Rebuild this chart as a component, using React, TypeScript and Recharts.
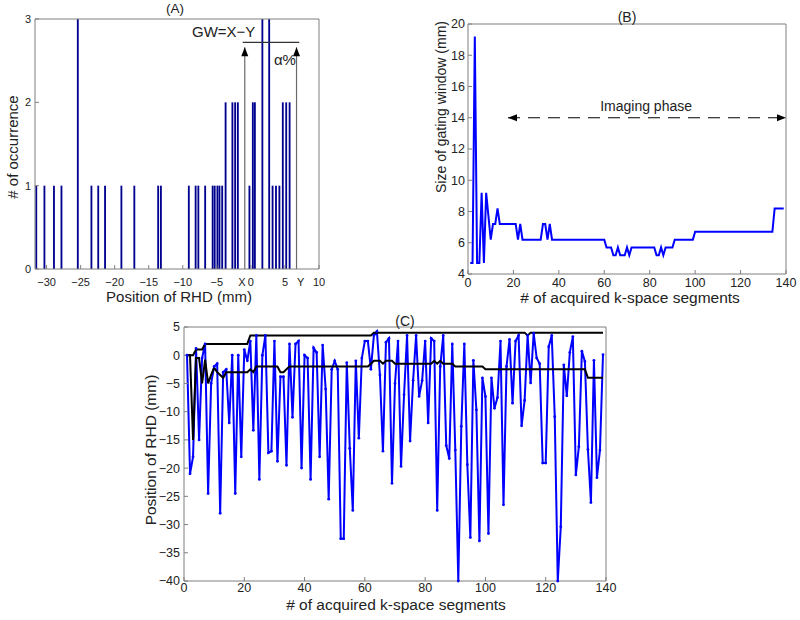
import React from 'react';
import { ComposedChart, Bar, LineChart, Line, XAxis, YAxis, ReferenceLine, ReferenceDot } from 'recharts';

const FONT = '"Liberation Sans", Arial, Helvetica, sans-serif';
const BOX = '#7f7f7f';
const INK = '#222222';

// ---------- Panel A: histogram of RHD positions ----------
const rhdBinCenters = [
  -31.5, -30.3, -28.9, -27.8, -25.4, -23.4, -22.4, -21.4, -19.0, -17.1,
  -13.6, -13.2, -9.1, -8.1, -7.7, -6.7, -5.6, -5.3, -4.9, -4.6,
  -4.2, -3.7, -2.7, -2.3, -1.9, -0.2, 0.3, 0.6, 1.7, 2.7,
  3.2, 3.7, 4.2, 4.7, 5.2, 5.7,
];
const rhdBinCounts = [
  1, 1, 1, 1, 3, 1, 1, 1, 1, 1,
  1, 1, 1, 1, 1, 1, 1, 1, 1, 1,
  1, 2, 2, 2, 2, 1, 2, 2, 3, 3,
  1, 1, 1, 2, 2, 2,
];
const histXTicks = [-30, -25, -20, -15, -10, -5, 0, 5, 10];
const histYTicks = [0, 1, 2, 3];
const histXDomain = [-31.7, 10];
const gateX = -0.9;
const gateY = 6.7;
const arrowTop = 2.66;
const gwLevel = 2.72;
const gwLineFrom = -1.2;
const gwLineTo = 7.1;

// ---------- Panel B: size of gating window ----------
const gatingWindowSize = [
  4.7, 4.7, 19.2, 4.7, 4.7, 9.2, 4.7, 9.2, 7.7, 6.2,
  7.2, 7.2, 8.2, 7.2, 7.2, 7.2, 7.2, 7.2, 7.2, 7.2,
  7.2, 6.2, 7.2, 6.2, 6.2, 6.2, 6.2, 6.2, 6.2, 6.2,
  6.2, 6.2, 7.2, 7.2, 6.2, 7.2, 6.2, 6.2, 6.2, 6.2,
  6.2, 6.2, 6.2, 6.2, 6.2, 6.2, 6.2, 6.2, 6.2, 6.2,
  6.2, 6.2, 6.2, 6.2, 6.2, 6.2, 6.2, 6.2, 6.2, 6.2,
  5.7, 5.7, 5.7, 5.2, 5.2, 5.7, 5.2, 5.2, 5.2, 5.7,
  5.2, 5.7, 5.7, 5.7, 5.7, 5.7, 5.7, 5.7, 5.7, 5.7,
  5.7, 5.7, 5.2, 5.2, 5.7, 5.2, 5.7, 5.7, 5.7, 5.7,
  6.2, 6.2, 6.2, 6.2, 6.2, 6.2, 6.2, 6.2, 6.2, 6.7,
  6.7, 6.7, 6.7, 6.7, 6.7, 6.7, 6.7, 6.7, 6.7, 6.7,
  6.7, 6.7, 6.7, 6.7, 6.7, 6.7, 6.7, 6.7, 6.7, 6.7,
  6.7, 6.7, 6.7, 6.7, 6.7, 6.7, 6.7, 6.7, 6.7, 6.7,
  6.7, 6.7, 6.7, 6.7, 8.2, 8.2, 8.2, 8.2, 8.2,
];
const segTicks = [0, 20, 40, 60, 80, 100, 120, 140];
const gwYTicks = [4, 6, 8, 10, 12, 14, 16, 18, 20];
const imagingStart = 17.6;
const imagingEnd = 140;
const imagingLevel = 14;

// ---------- Panel C: RHD positions with gating window bounds ----------
const rhdPosition = [
  0, -21, -18, 1.2, -15, -0.5, 2, -24.5, -5, -2,
  -1.5, -28, -3, -2.5, -12, 0, -24.5, 0, -18, 1,
  -1, 2.5, -13.3, 3.5, -22, 0, 3.5, -17.3, -17, 2.5,
  -18.8, -3.8, -3.8, -19.5, 2, -11, 2, 2.5, -20, 0,
  -0.5, -22, 1.3, 0.5, -18, 1.8, -6, -25.5, -2.5, -1,
  -2.5, -32.5, -32.5, -1.3, -16.5, -27.5, -1, -14.7, -0.5, 2.5,
  2.5, -2.5, 3.5, 4.2, -3.5, -17, 2.3, 3, -22.7, -5,
  2.5, -19.7, -7, 3.5, -15.2, -4.5, 3.5, -7.3, -4.5, 2.5,
  -12, 3, 2.5, -27.5, -2, 3.5, -16, -18.3, 2, -16.8,
  -40, -12.6, 2, -19.4, -32.3, -0.9, -9.7, -32.9, -4, -7.3,
  -31.6, -4, -9.4, -7.5, 2.5, -26.5, -2, 2.8, -8.5, 2.5,
  3.5, -12.5, -8, 3.5, -4.9, 3.9, -0.5, -1.5, -19.1, -19.1,
  1.5, 3.5, -10.9, -40, -30.4, -1.7, -7.2, 0.5, 3.3, -21.2,
  -16.2, 0.7, -1.1, -16.7, -26.1, -0.9, -21.7, -16.8, 0.1,
];
const upperBound = [
  0, 0, 0, 1, 1, 1, 2, 2, 2, 2,
  2, 2, 2, 2, 2, 2, 2, 2, 2, 2,
  2, 3.5, 3.5, 3.5, 3.5, 3.5, 3.5, 3.5, 3.5, 3.5,
  3.5, 3.5, 3.5, 3.5, 3.5, 3.5, 3.5, 3.5, 3.5, 3.5,
  3.5, 3.5, 3.5, 3.5, 3.5, 3.5, 3.5, 3.5, 3.5, 3.5,
  3.5, 3.5, 3.5, 3.5, 3.5, 3.5, 3.5, 3.5, 3.5, 3.5,
  3.5, 3.5, 4, 4, 4, 4, 4, 4, 4, 4,
  4, 4, 4, 4, 4, 4, 4, 4, 4, 4,
  4, 4, 4, 4, 4, 4, 4, 4, 4, 4,
  4, 4, 4, 4, 4, 4, 4, 4, 4, 4,
  4, 4, 4, 4, 4, 4, 4, 4, 4, 4,
  4, 4, 4, 3.5, 4, 4, 4, 4, 4, 4,
  4, 4, 4, 4, 4, 4, 4, 4, 4, 4,
  4, 4, 4, 4, 4, 4, 4, 4, 4,
];
const lowerBound = [
  0, 0, -15, -0.5, -0.5, -5, -0.8, -5, -3.5, -2.2,
  -3, -3.5, -4, -3, -3, -3, -3, -3, -3, -3,
  -3, -2.5, -3, -2, -2, -2, -2, -2, -2, -2,
  -2, -3, -3, -2.5, -2, -2, -2, -2, -2, -2,
  -2, -2, -2, -2, -2, -2, -2, -2, -2, -2,
  -2, -2, -2, -2, -2, -2, -2, -2, -2, -2,
  -2, -1.5, -1, -1, -1, -1.5, -1, -1, -1, -1.5,
  -1.5, -1.5, -1.5, -1.5, -1.5, -1.5, -1.5, -1.5, -1.5, -1.5,
  -1.5, -1.5, -1, -1.5, -1, -1.5, -1.5, -1.5, -1.5, -2,
  -2, -2, -2, -2, -2, -2, -2, -2, -2, -2.5,
  -2.5, -2.5, -2.5, -2.5, -2.5, -2.5, -2.5, -2.5, -2.5, -2.5,
  -2.5, -2.5, -2.5, -2.5, -2.5, -2.5, -2.5, -2.5, -2.5, -2.5,
  -2.5, -2.5, -2.5, -2.5, -2.5, -2.5, -2.5, -2.5, -2.5, -2.5,
  -2.5, -2.5, -2.5, -4, -4, -4, -4, -4, -4,
];
const rhdYTicks = [5, 0, -5, -10, -15, -20, -25, -30, -35, -40];

// ---------- tables built from the arrays ----------
const histData = rhdBinCenters.map((pos, k) => ({ pos, count: rhdBinCounts[k] }));
const gwData = gatingWindowSize.map((gw, k) => ({ seg: k + 1, gw }));
const rhdData = rhdPosition.map((rhd, k) => ({ seg: k + 1, rhd, up: upperBound[k], low: lowerBound[k] }));

const minus = (v: number) => String(v).replace('-', '\u2212');

// ---------- label / shape helpers ----------
const bottomTitle = (text: string, baseline: number, size: number, dx = 0) => (props: any) => {
  const vb = props.viewBox || { x: 0, y: 0, width: 0, height: 0 };
  return (
    <text x={vb.x + vb.width / 2 + dx} y={vb.y + baseline} textAnchor="middle" fontSize={size} fontFamily={FONT} fill={INK}>
      {text}
    </text>
  );
};
const topTitle = (text: string, gap: number, size: number, dx = 0) => (props: any) => {
  const vb = props.viewBox || { x: 0, y: 0, width: 0, height: 0 };
  return (
    <text x={vb.x + vb.width / 2 + dx} y={vb.y + vb.height - gap} textAnchor="middle" fontSize={size} fontFamily={FONT} fill={INK}>
      {text}
    </text>
  );
};
const leftTitle = (text: string, cx: number, dy: number, size: number) => (props: any) => {
  const vb = props.viewBox || { x: 0, y: 0, width: 0, height: 0 };
  const x = vb.x + cx;
  const y = vb.y + vb.height / 2 + dy;
  return (
    <text x={x} y={y} transform={`rotate(-90 ${x} ${y})`} textAnchor="middle" dominantBaseline="central" fontSize={size} fontFamily={FONT} fill={INK}>
      {text}
    </text>
  );
};
const upHead = (p: any) => (
  <polygon points={`${p.cx},${p.cy} ${p.cx - 3.5},${p.cy + 9} ${p.cx + 3.5},${p.cy + 9}`} fill="#000" />
);
const leftHead = (p: any) => (
  <polygon points={`${p.cx},${p.cy} ${p.cx + 9},${p.cy - 3.5} ${p.cx + 9},${p.cy + 3.5}`} fill="#000" />
);
const rightHead = (p: any) => (
  <polygon points={`${p.cx},${p.cy} ${p.cx - 9},${p.cy - 3.5} ${p.cx - 9},${p.cy + 3.5}`} fill="#000" />
);
const textAt = (text: string, size: number, dy = 0) => (p: any) => (
  <text x={p.cx} y={p.cy + dy} textAnchor="middle" fontSize={size} fontFamily={FONT} fill={INK}>
    {text}
  </text>
);

const tickA = { fontSize: 11, fill: INK, fontFamily: FONT };
const tickB = { fontSize: 12.5, fill: INK, fontFamily: FONT };
const tickC = { fontSize: 12.5, fill: INK, fontFamily: FONT };

// invisible series bound to the mirrored frame axes (top / right)
const FrameSeries = (dataKey: string) => (
  <Line xAxisId="top" yAxisId="right" dataKey={dataKey} stroke="none" dot={false} activeDot={false}
    legendType="none" isAnimationActive={false} />
);

function PanelA() {
  return (
    <ComposedChart width={340} height={310} data={histData} margin={{ top: 18, right: 20, bottom: 5, left: 0 }}>
      <XAxis dataKey="pos" type="number" domain={histXDomain} allowDataOverflow ticks={histXTicks} interval={0}
        tickFormatter={minus} tickSize={-4} tickMargin={13} height={36} stroke={BOX} tick={tickA}
        label={bottomTitle('Position of RHD (mm)', 33, 15, 2)} />
      <XAxis xAxisId="top" dataKey="pos" orientation="top" type="number" domain={histXDomain} allowDataOverflow ticks={histXTicks}
        interval={0} tick={false} tickSize={-4} height={1} stroke={BOX} label={topTitle('(A)', 6, 13.5, -2)} />
      <YAxis type="number" domain={[0, 3]} ticks={histYTicks} interval={0} tickSize={-4} tickMargin={8} width={35}
        stroke={BOX} tick={tickA} label={leftTitle('# of occurrence', 12, 3, 15)} />
      <YAxis yAxisId="right" orientation="right" type="number" domain={[0, 3]} allowDataOverflow ticks={histYTicks}
        interval={0} tick={false} tickSize={-4} width={1} stroke={BOX} />
      <Bar dataKey="count" fill="#00008f" barSize={2.2} isAnimationActive={false} />
      {FrameSeries('count')}
      <ReferenceLine segment={[{ x: gateX, y: 0 }, { x: gateX, y: arrowTop }]} stroke="#6a6a6a" strokeWidth={1.2} />
      <ReferenceLine segment={[{ x: gateY, y: 0 }, { x: gateY, y: arrowTop }]} stroke="#6a6a6a" strokeWidth={1.2} />
      <ReferenceLine segment={[{ x: gwLineFrom, y: gwLevel }, { x: gwLineTo, y: gwLevel }]} stroke="#333" strokeWidth={1.2} />
      <ReferenceDot x={gateX} y={arrowTop} shape={upHead} />
      <ReferenceDot x={gateY} y={arrowTop} shape={upHead} />
      <ReferenceDot x={-4.0} y={2.78} shape={textAt('GW=X\u2212Y', 15)} />
      <ReferenceDot x={5.0} y={2.45} shape={textAt('\u03b1%', 15)} />
      <ReferenceDot x={-1.3} y={0} shape={textAt('X', 11, 17)} />
      <ReferenceDot x={7.3} y={0} shape={textAt('Y', 11, 17)} />
    </ComposedChart>
  );
}

function PanelB() {
  return (
    <LineChart width={400} height={312} data={gwData} margin={{ top: 23, right: 13, bottom: 6, left: 0 }}>
      <XAxis dataKey="seg" type="number" domain={[0, 140]} ticks={segTicks} interval={0} tickSize={-4} tickMargin={8.5}
        height={32} stroke={BOX} tick={tickB} label={bottomTitle('# of acquired k-space segments', 29, 15.5, 3)} />
      <XAxis xAxisId="top" dataKey="seg" orientation="top" type="number" domain={[0, 140]} allowDataOverflow ticks={segTicks}
        interval={0} tick={false} tickSize={-4} height={1} stroke={BOX} label={topTitle('(B)', 2.5, 14)} />
      <YAxis type="number" domain={[4, 20]} ticks={gwYTicks} interval={0} tickSize={-4} tickMargin={7} width={68}
        stroke={BOX} tick={tickB} label={leftTitle('Size of gating window (mm)', 41, -42, 14)} />
      <YAxis yAxisId="right" orientation="right" type="number" domain={[4, 20]} allowDataOverflow ticks={gwYTicks}
        interval={0} tick={false} tickSize={-4} width={1} stroke={BOX} />
      <Line dataKey="gw" type="linear" stroke="#0000ff" strokeWidth={2} dot={false} isAnimationActive={false} />
      {FrameSeries('gw')}
      <ReferenceLine segment={[{ x: imagingStart, y: imagingLevel }, { x: imagingEnd, y: imagingLevel }]}
        stroke="#000" strokeWidth={1} strokeDasharray="12 8" />
      <ReferenceDot x={imagingStart} y={imagingLevel} shape={leftHead} />
      <ReferenceDot x={imagingEnd} y={imagingLevel} shape={rightHead} />
      <ReferenceDot x={78.4} y={14.75} shape={textAt('Imaging phase', 14, 5)} />
    </LineChart>
  );
}

function PanelC() {
  return (
    <LineChart width={530} height={320} data={rhdData} margin={{ top: 26, right: 23, bottom: 3, left: 0 }}>
      <XAxis dataKey="seg" type="number" domain={[0, 140]} ticks={segTicks} interval={0} tickSize={-4} tickMargin={6}
        height={36} stroke={BOX} tick={tickC} label={bottomTitle('# of acquired k-space segments', 29, 15.5, 1)} />
      <XAxis xAxisId="top" dataKey="seg" orientation="top" type="number" domain={[0, 140]} allowDataOverflow ticks={segTicks}
        interval={0} tick={false} tickSize={-4} height={1} stroke={BOX} label={topTitle('(C)', 1.5, 14, 10)} />
      <YAxis type="number" domain={[-40, 5]} ticks={rhdYTicks} interval={0} tickFormatter={minus} tickSize={-4}
        tickMargin={8} width={84} stroke={BOX} tick={tickC} label={leftTitle('Position of RHD (mm)', 50, -4, 15.5)} />
      <YAxis yAxisId="right" orientation="right" type="number" domain={[-40, 5]} allowDataOverflow ticks={rhdYTicks}
        interval={0} tick={false} tickSize={-4} width={1} stroke={BOX} />
      <Line dataKey="rhd" type="linear" stroke="#0000ff" strokeWidth={2}
        dot={{ r: 1.4, fill: '#0000ff', stroke: 'none' }} isAnimationActive={false} />
      <Line dataKey="up" type="linear" stroke="#000" strokeWidth={2} dot={false} isAnimationActive={false} />
      <Line dataKey="low" type="linear" stroke="#000" strokeWidth={2} dot={false} isAnimationActive={false} />
      {FrameSeries('rhd')}
    </LineChart>
  );
}

export default function App() {
  return (
    <div style={{ position: 'absolute', left: 0, top: 0, width: 800, height: 620, background: '#fff', overflow: 'hidden', fontFamily: FONT }}>
      <div style={{ position: 'absolute', left: 0, top: 0 }}>
        <PanelA />
      </div>
      <div style={{ position: 'absolute', left: 400, top: 0 }}>
        <PanelB />
      </div>
      <div style={{ position: 'absolute', left: 100, top: 300 }}>
        <PanelC />
      </div>
    </div>
  );
}
